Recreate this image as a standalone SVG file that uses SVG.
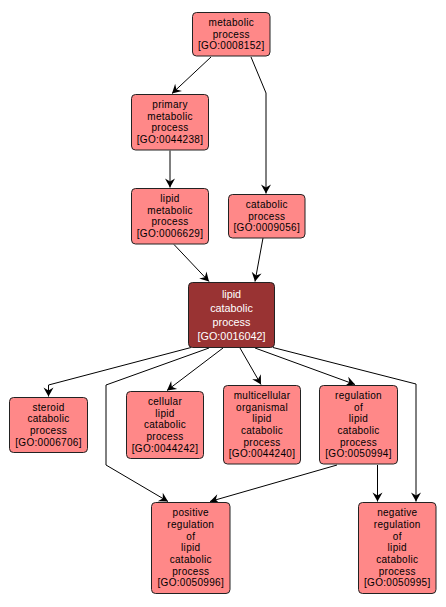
<svg xmlns="http://www.w3.org/2000/svg" width="446" height="607" viewBox="0 0 446 607">
<style>
.n rect{fill:#ff8888;stroke:#222;stroke-width:1}
.n text{font-family:"Liberation Sans",Arial,sans-serif;font-size:10px;letter-spacing:0.3px;fill:#000;text-anchor:middle}
#lipid_catabolic rect{fill:#993333}
#lipid_catabolic text{fill:#fff;font-size:10.8px;letter-spacing:0}
.e path{fill:none;stroke:#000;stroke-width:1;marker-end:url(#a)}
</style>
<defs>
<marker id="a" markerUnits="userSpaceOnUse" markerWidth="12" markerHeight="12" viewBox="-1 -6 12 12" refX="9" refY="0" orient="auto">
<path d="M0,-5 L9,0 L0,5 L3,0 z" fill="#000"/>
</marker>
</defs>
<rect width="446" height="607" fill="#fff"/>
<g id="connectors" class="e">
<path d="M211,57 L172,93.5"/>
<path d="M251,57 L266,93 L266,193.5"/>
<path d="M170,150.5 L170,187.5"/>
<path d="M174,244.5 L209,281.5"/>
<path d="M263,238 L255,281.5"/>
<path d="M191,347.5 L48.5,385 L48.5,396.5"/>
<path d="M209,348 L106,385 L106,465 L168,501.5"/>
<path d="M223,348 L167,390.5"/>
<path d="M240,348 L261,384.5"/>
<path d="M255,348 L355,384.5"/>
<path d="M273,347.5 L416,384 L416,501.5"/>
<path d="M337,465 L210,501.5"/>
<path d="M377.5,465 L377.5,501.5"/>
</g>
<g id="metabolic_process" class="n"><rect x="192.5" y="12.5" width="77.5" height="43.5" rx="4"/><text y="25.85"><tspan x="231.25">metabolic</tspan><tspan x="231.25" dy="11.7">process</tspan><tspan x="231.25" dy="11.7">[GO:0008152]</tspan></text></g>
<g id="primary_metabolic_process" class="n"><rect x="131.5" y="94.5" width="77" height="55.5" rx="4"/><text y="108"><tspan x="170">primary</tspan><tspan x="170" dy="11.7">metabolic</tspan><tspan x="170" dy="11.7">process</tspan><tspan x="170" dy="11.7">[GO:0044238]</tspan></text></g>
<g id="lipid_metabolic_process" class="n"><rect x="131.5" y="188.5" width="77" height="55.5" rx="4"/><text y="202"><tspan x="170">lipid</tspan><tspan x="170" dy="11.7">metabolic</tspan><tspan x="170" dy="11.7">process</tspan><tspan x="170" dy="11.7">[GO:0006629]</tspan></text></g>
<g id="catabolic_process" class="n"><rect x="228.5" y="194.5" width="76.5" height="43.5" rx="4"/><text y="207.85"><tspan x="266.75">catabolic</tspan><tspan x="266.75" dy="11.7">process</tspan><tspan x="266.75" dy="11.7">[GO:0009056]</tspan></text></g>
<g id="lipid_catabolic" class="n"><rect x="188.5" y="282.5" width="86" height="65" rx="4"/><text y="297.8"><tspan x="231.5">lipid</tspan><tspan x="231.5" dy="14">catabolic</tspan><tspan x="231.5" dy="14">process</tspan><tspan x="231.5" dy="14">[GO:0016042]</tspan></text></g>
<g id="steroid_catabolic_process" class="n"><rect x="9.5" y="397.5" width="78" height="55" rx="4"/><text y="410.75"><tspan x="48.5">steroid</tspan><tspan x="48.5" dy="11.7">catabolic</tspan><tspan x="48.5" dy="11.7">process</tspan><tspan x="48.5" dy="11.7">[GO:0006706]</tspan></text></g>
<g id="cellular_lipid_catabolic_process" class="n"><rect x="126.5" y="391.5" width="77" height="67" rx="4"/><text y="404.9"><tspan x="165">cellular</tspan><tspan x="165" dy="11.7">lipid</tspan><tspan x="165" dy="11.7">catabolic</tspan><tspan x="165" dy="11.7">process</tspan><tspan x="165" dy="11.7">[GO:0044242]</tspan></text></g>
<g id="multicellular_organismal_lipid_catabolic_process" class="n"><rect x="223.5" y="385.5" width="77" height="78.5" rx="4"/><text y="398.8"><tspan x="262">multicellular</tspan><tspan x="262" dy="11.7">organismal</tspan><tspan x="262" dy="11.7">lipid</tspan><tspan x="262" dy="11.7">catabolic</tspan><tspan x="262" dy="11.7">process</tspan><tspan x="262" dy="11.7">[GO:0044240]</tspan></text></g>
<g id="regulation_of_lipid_catabolic_process" class="n"><rect x="319.5" y="385.5" width="78" height="78.5" rx="4"/><text y="398.8"><tspan x="358.5">regulation</tspan><tspan x="358.5" dy="11.7">of</tspan><tspan x="358.5" dy="11.7">lipid</tspan><tspan x="358.5" dy="11.7">catabolic</tspan><tspan x="358.5" dy="11.7">process</tspan><tspan x="358.5" dy="11.7">[GO:0050994]</tspan></text></g>
<g id="positive_regulation_of_lipid_catabolic_process" class="n"><rect x="151.5" y="502.5" width="78.5" height="91" rx="4"/><text y="516.2"><tspan x="190.75">positive</tspan><tspan x="190.75" dy="11.7">regulation</tspan><tspan x="190.75" dy="11.7">of</tspan><tspan x="190.75" dy="11.7">lipid</tspan><tspan x="190.75" dy="11.7">catabolic</tspan><tspan x="190.75" dy="11.7">process</tspan><tspan x="190.75" dy="11.7">[GO:0050996]</tspan></text></g>
<g id="negative_regulation_of_lipid_catabolic_process" class="n"><rect x="358.5" y="502.5" width="77.5" height="91" rx="4"/><text y="516.2"><tspan x="397.25">negative</tspan><tspan x="397.25" dy="11.7">regulation</tspan><tspan x="397.25" dy="11.7">of</tspan><tspan x="397.25" dy="11.7">lipid</tspan><tspan x="397.25" dy="11.7">catabolic</tspan><tspan x="397.25" dy="11.7">process</tspan><tspan x="397.25" dy="11.7">[GO:0050995]</tspan></text></g>
</svg>
